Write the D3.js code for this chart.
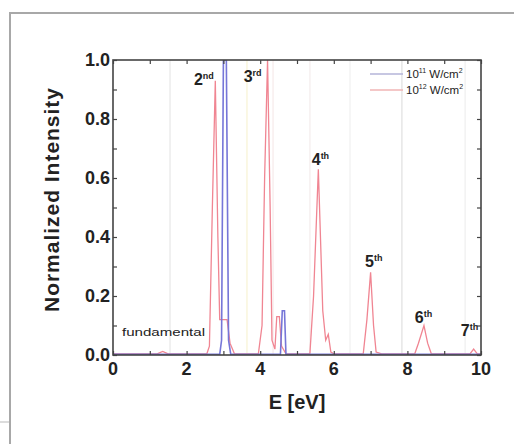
<!DOCTYPE html>
<html>
<head>
<meta charset="utf-8">
<script src="https://cdn.jsdelivr.net/npm/d3@7"></script>
<style>
  html, body { margin: 0; padding: 0; background: #fff; }
  svg { display: block; }
  text { font-family: "Liberation Sans", Arial, sans-serif; fill: #222; }
</style>
</head>
<body>
<svg id="chart" width="514" height="444"></svg>
<script>
// Harmonic spectrum, 10^12 W/cm^2 (red) : [E (eV), normalized intensity]
const spectrumHigh = [
  [0.0, 0.004], [1.2, 0.004], [1.35, 0.012], [1.5, 0.004], [2.55, 0.004],
  [2.62, 0.03], [2.7, 0.5], [2.78, 0.93], [2.85, 0.4], [2.9, 0.12],
  [3.0, 0.12], [3.1, 0.12], [3.18, 0.04], [3.3, 0.004], [3.95, 0.004],
  [4.05, 0.1], [4.12, 0.6], [4.2, 1.0], [4.27, 0.5], [4.32, 0.05],
  [4.4, 0.02], [4.45, 0.13], [4.52, 0.13], [4.58, 0.03], [4.7, 0.004],
  [5.35, 0.004], [5.45, 0.2], [5.58, 0.63], [5.7, 0.15], [5.78, 0.05],
  [5.85, 0.07], [5.92, 0.01], [6.0, 0.004], [6.8, 0.004], [6.9, 0.12],
  [7.0, 0.28], [7.08, 0.1], [7.15, 0.01], [7.3, 0.004], [8.2, 0.004],
  [8.3, 0.04], [8.45, 0.10], [8.55, 0.04], [8.65, 0.004], [9.7, 0.004],
  [9.8, 0.02], [9.9, 0.004], [10.0, 0.004]
];

// Harmonic spectrum, 10^11 W/cm^2 (blue)
const spectrumLow = [
  [0.0, 0.002], [2.9, 0.002], [2.95, 0.05], [3.0, 1.0], [3.08, 1.0],
  [3.14, 0.05], [3.2, 0.002], [4.55, 0.002], [4.6, 0.15], [4.66, 0.15],
  [4.7, 0.002], [10.0, 0.002]
];

// Harmonic order labels: [order, suffix, E, intensity]
const harmonicLabels = [
  ["2", "nd", 2.2, 0.915],
  ["3", "rd", 3.55, 0.925],
  ["4", "th", 5.4, 0.645],
  ["5", "th", 6.85, 0.30],
  ["6", "th", 8.2, 0.11],
  ["7", "th", 9.45, 0.065]
];

const legendItems = [
  ["10", "11", " W/cm", "2", "#b4b4d8"],
  ["10", "12", " W/cm", "2", "#f0b4b4"]
];

// faint vertical guide lines through the plot
const guideLines = [[1.55, "#ececec"], [3.64, "#f9f5dc"], [4.35, "#f8eeee"],
                    [5.35, "#f6f0f0"], [6.44, "#f3f3f3"], [7.85, "#e6e6e6"], [9.57, "#f2f2f2"]];

const xTicks = [0, 2, 4, 6, 8, 10];
const yTicks = [0, 0.2, 0.4, 0.6, 0.8, 1.0];

const svg = d3.select("#chart");

// outer frame
svg.append("path")
  .attr("d", "M10,444 L10,13 L514,13")
  .attr("fill", "none").attr("stroke", "#a8a8a8").attr("stroke-width", 2);
svg.append("line").attr("x1", 0).attr("x2", 9).attr("y1", 422).attr("y2", 422)
  .attr("stroke", "#d0d0d0").attr("stroke-width", 1.5);

const x = d3.scaleLinear().domain([0, 10]).range([113, 481]);
const y = d3.scaleLinear().domain([0, 1]).range([355, 60]);

const plot = svg.append("g");
plot.append("clipPath").attr("id", "clip")
  .append("rect").attr("x", 113).attr("y", 60).attr("width", 368).attr("height", 295);

plot.selectAll("line.guide").data(guideLines).join("line")
  .attr("class", "guide")
  .attr("x1", d => x(d[0])).attr("x2", d => x(d[0]))
  .attr("y1", y(1)).attr("y2", y(0))
  .attr("stroke", d => d[1]).attr("stroke-width", 1.5);

const line = d3.line().x(d => x(d[0])).y(d => y(d[1]));

plot.append("path").datum(spectrumHigh)
  .attr("clip-path", "url(#clip)")
  .attr("d", line).attr("fill", "none")
  .attr("stroke", "#f08592").attr("stroke-width", 1.3);

plot.append("path").datum(spectrumLow)
  .attr("clip-path", "url(#clip)")
  .attr("d", line).attr("fill", "none")
  .attr("stroke", "#7676d8").attr("stroke-width", 1.6);

// axes with inward ticks on all four sides
const axisColor = "#444";
function styleAxis(g) {
  g.select(".domain").remove();
  g.selectAll(".tick line").attr("stroke", axisColor).attr("stroke-width", 1.2);
}
svg.append("g").attr("transform", `translate(0,${y(0)})`)
  .call(d3.axisBottom(x).tickValues(d3.range(0, 11, 1)).tickSize(-4).tickFormat(""))
  .call(styleAxis);
svg.append("g").attr("transform", `translate(0,${y(1)})`)
  .call(d3.axisTop(x).tickValues(d3.range(0, 11, 1)).tickSize(-4).tickFormat(""))
  .call(styleAxis);
svg.append("g").attr("transform", `translate(${x(0)},0)`)
  .call(d3.axisLeft(y).tickValues(d3.range(0, 1.01, 0.1)).tickSize(-4).tickFormat(""))
  .call(styleAxis);
svg.append("g").attr("transform", `translate(${x(10)},0)`)
  .call(d3.axisRight(y).tickValues(d3.range(0, 1.01, 0.1)).tickSize(-4).tickFormat(""))
  .call(styleAxis);

svg.append("rect").attr("x", x(0)).attr("y", y(1))
  .attr("width", x(10) - x(0)).attr("height", y(0) - y(1))
  .attr("fill", "none").attr("stroke", axisColor).attr("stroke-width", 1.6);

// tick labels
svg.selectAll("text.xt").data(xTicks).join("text")
  .attr("class", "xt")
  .attr("x", d => x(d)).attr("y", 375)
  .attr("text-anchor", "middle")
  .attr("font-size", 18).attr("font-weight", "bold")
  .text(d => d);
svg.selectAll("text.yt").data(yTicks).join("text")
  .attr("class", "yt")
  .attr("x", 110).attr("y", d => y(d) + 6)
  .attr("text-anchor", "end")
  .attr("font-size", 18).attr("font-weight", "bold")
  .text(d => d.toFixed(1));

// axis titles
svg.append("text")
  .attr("x", 297).attr("y", 409)
  .attr("text-anchor", "middle")
  .attr("font-size", 20).attr("font-weight", "bold")
  .text("E [eV]");
svg.append("text")
  .attr("transform", "translate(59,200) rotate(-90)")
  .attr("text-anchor", "middle")
  .attr("font-size", 21).attr("font-weight", "bold")
  .attr("textLength", 224).attr("lengthAdjust", "spacing")
  .text("Normalized Intensity");

// harmonic order labels
harmonicLabels.forEach(([n, suf, e, v]) => {
  const t = svg.append("text")
    .attr("x", x(e)).attr("y", y(v))
    .attr("font-size", 16).attr("font-weight", "bold");
  t.append("tspan").text(n);
  t.append("tspan").attr("font-size", 9).attr("dy", -6).text(suf);
});

svg.append("text")
  .attr("x", 122).attr("y", 336)
  .attr("font-size", 11)
  .attr("textLength", 83).attr("lengthAdjust", "spacingAndGlyphs")
  .text("fundamental");

// legend
legendItems.forEach(([b, e, u, p, c], i) => {
  const ly = 74 + i * 16;
  svg.append("line").attr("x1", 370).attr("x2", 403).attr("y1", ly).attr("y2", ly)
    .attr("stroke", c).attr("stroke-width", 1.3);
  const t = svg.append("text").attr("x", 406).attr("y", ly + 4)
    .attr("font-size", 11.5).attr("fill", "#555");
  t.append("tspan").text(b);
  t.append("tspan").attr("font-size", 7).attr("dy", -5).text(e);
  t.append("tspan").attr("dy", 5).text(u);
  t.append("tspan").attr("font-size", 7).attr("dy", -5).text(p);
});
</script>
</body>
</html>
